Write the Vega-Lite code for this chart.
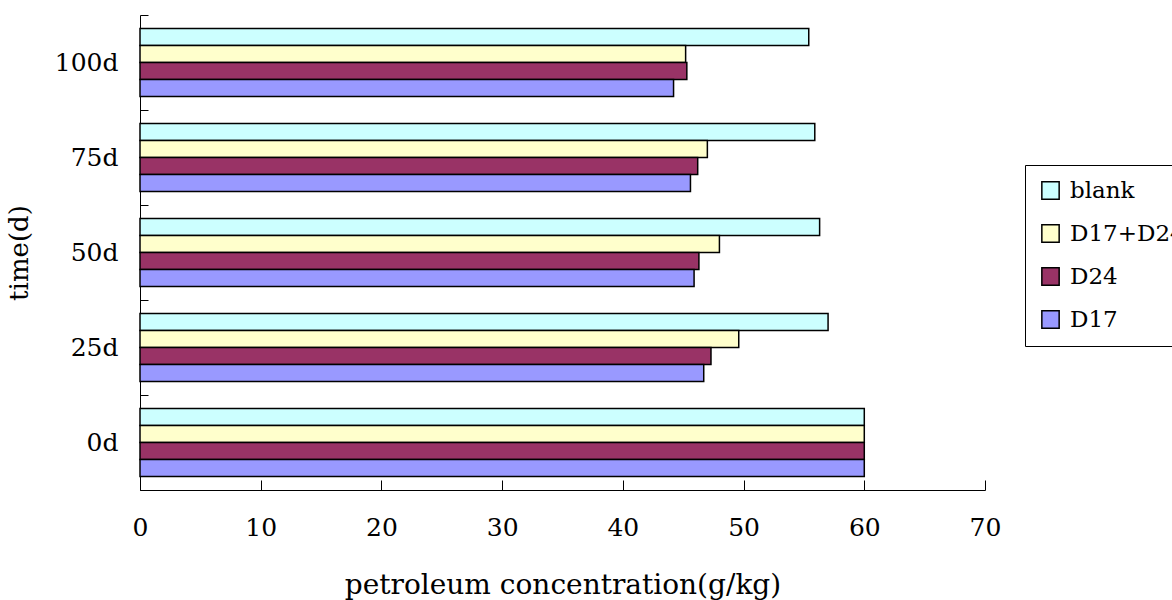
{
  "$schema": "https://vega.github.io/schema/vega-lite/v6.json",
  "autosize": "none",
  "width": 845,
  "height": 475,
  "padding": {"left": 140, "top": 15, "right": 187, "bottom": 110},
  "background": "white",
  "data": {"values": [
    {"time": "100d", "group": "blank", "value": 55.4},
    {"time": "100d", "group": "D17+D24", "value": 45.2},
    {"time": "100d", "group": "D24", "value": 45.3},
    {"time": "100d", "group": "D17", "value": 44.2},
    {"time": "75d", "group": "blank", "value": 55.9},
    {"time": "75d", "group": "D17+D24", "value": 47.0},
    {"time": "75d", "group": "D24", "value": 46.2},
    {"time": "75d", "group": "D17", "value": 45.6},
    {"time": "50d", "group": "blank", "value": 56.3},
    {"time": "50d", "group": "D17+D24", "value": 48.0},
    {"time": "50d", "group": "D24", "value": 46.3},
    {"time": "50d", "group": "D17", "value": 45.9},
    {"time": "25d", "group": "blank", "value": 57.0},
    {"time": "25d", "group": "D17+D24", "value": 49.6},
    {"time": "25d", "group": "D24", "value": 47.3},
    {"time": "25d", "group": "D17", "value": 46.7},
    {"time": "0d", "group": "blank", "value": 60.0},
    {"time": "0d", "group": "D17+D24", "value": 60.0},
    {"time": "0d", "group": "D24", "value": 60.0},
    {"time": "0d", "group": "D17", "value": 60.0}
  ]},
  "mark": {"type": "bar", "stroke": "black", "strokeWidth": 1.5},
  "encoding": {
    "y": {
      "field": "time", "type": "nominal",
      "sort": ["100d", "75d", "50d", "25d", "0d"],
      "scale": {"paddingInner": 0, "paddingOuter": 0},
      "axis": {
        "title": "time(d)",
        "titleFont": "DejaVu Serif", "titleFontSize": 26, "titleFontWeight": "normal",
        "titleColor": "black", "titlePadding": 22,
        "labelFont": "DejaVu Serif", "labelFontSize": 25, "labelColor": "black",
        "labelPadding": 30,
        "tickBand": "extent", "tickSize": -8, "tickColor": "black",
        "domainColor": "black", "grid": false
      }
    },
    "yOffset": {
      "field": "group", "type": "nominal",
      "sort": ["blank", "D17+D24", "D24", "D17"],
      "scale": {"paddingInner": 0, "paddingOuter": 0.79}
    },
    "x": {
      "field": "value", "type": "quantitative",
      "scale": {"domain": [0, 70], "nice": false},
      "axis": {
        "title": "petroleum concentration(g/kg)",
        "values": [0, 10, 20, 30, 40, 50, 60, 70],
        "titleFont": "DejaVu Serif", "titleFontSize": 28, "titleFontWeight": "normal",
        "titleColor": "black", "titlePadding": 31,
        "labelFont": "DejaVu Serif", "labelFontSize": 25, "labelColor": "black",
        "labelPadding": 35, "labelFlush": false,
        "tickSize": -10, "tickColor": "black",
        "domainColor": "black", "grid": false
      }
    },
    "fill": {
      "field": "group", "type": "nominal",
      "sort": ["blank", "D17+D24", "D24", "D17"],
      "scale": {"domain": ["blank", "D17+D24", "D24", "D17"], "range": ["#CCFFFF", "#FFFFCC", "#993366", "#9999FF"]},
      "legend": {
        "title": null,
        "orient": "none", "legendX": 885, "legendY": 150,
        "symbolType": "square", "symbolSize": 300,
        "symbolStrokeColor": "black", "symbolStrokeWidth": 1.5,
        "symbolOpacity": 1,
        "labelFont": "DejaVu Serif", "labelFontSize": 23, "labelColor": "black",
        "labelOffset": 8, "rowPadding": 18,
        "padding": 14, "strokeColor": "black", "fillColor": "white"
      }
    }
  },
  "config": {"view": {"stroke": null}, "axis": {"domainWidth": 1, "tickWidth": 1}}
}
